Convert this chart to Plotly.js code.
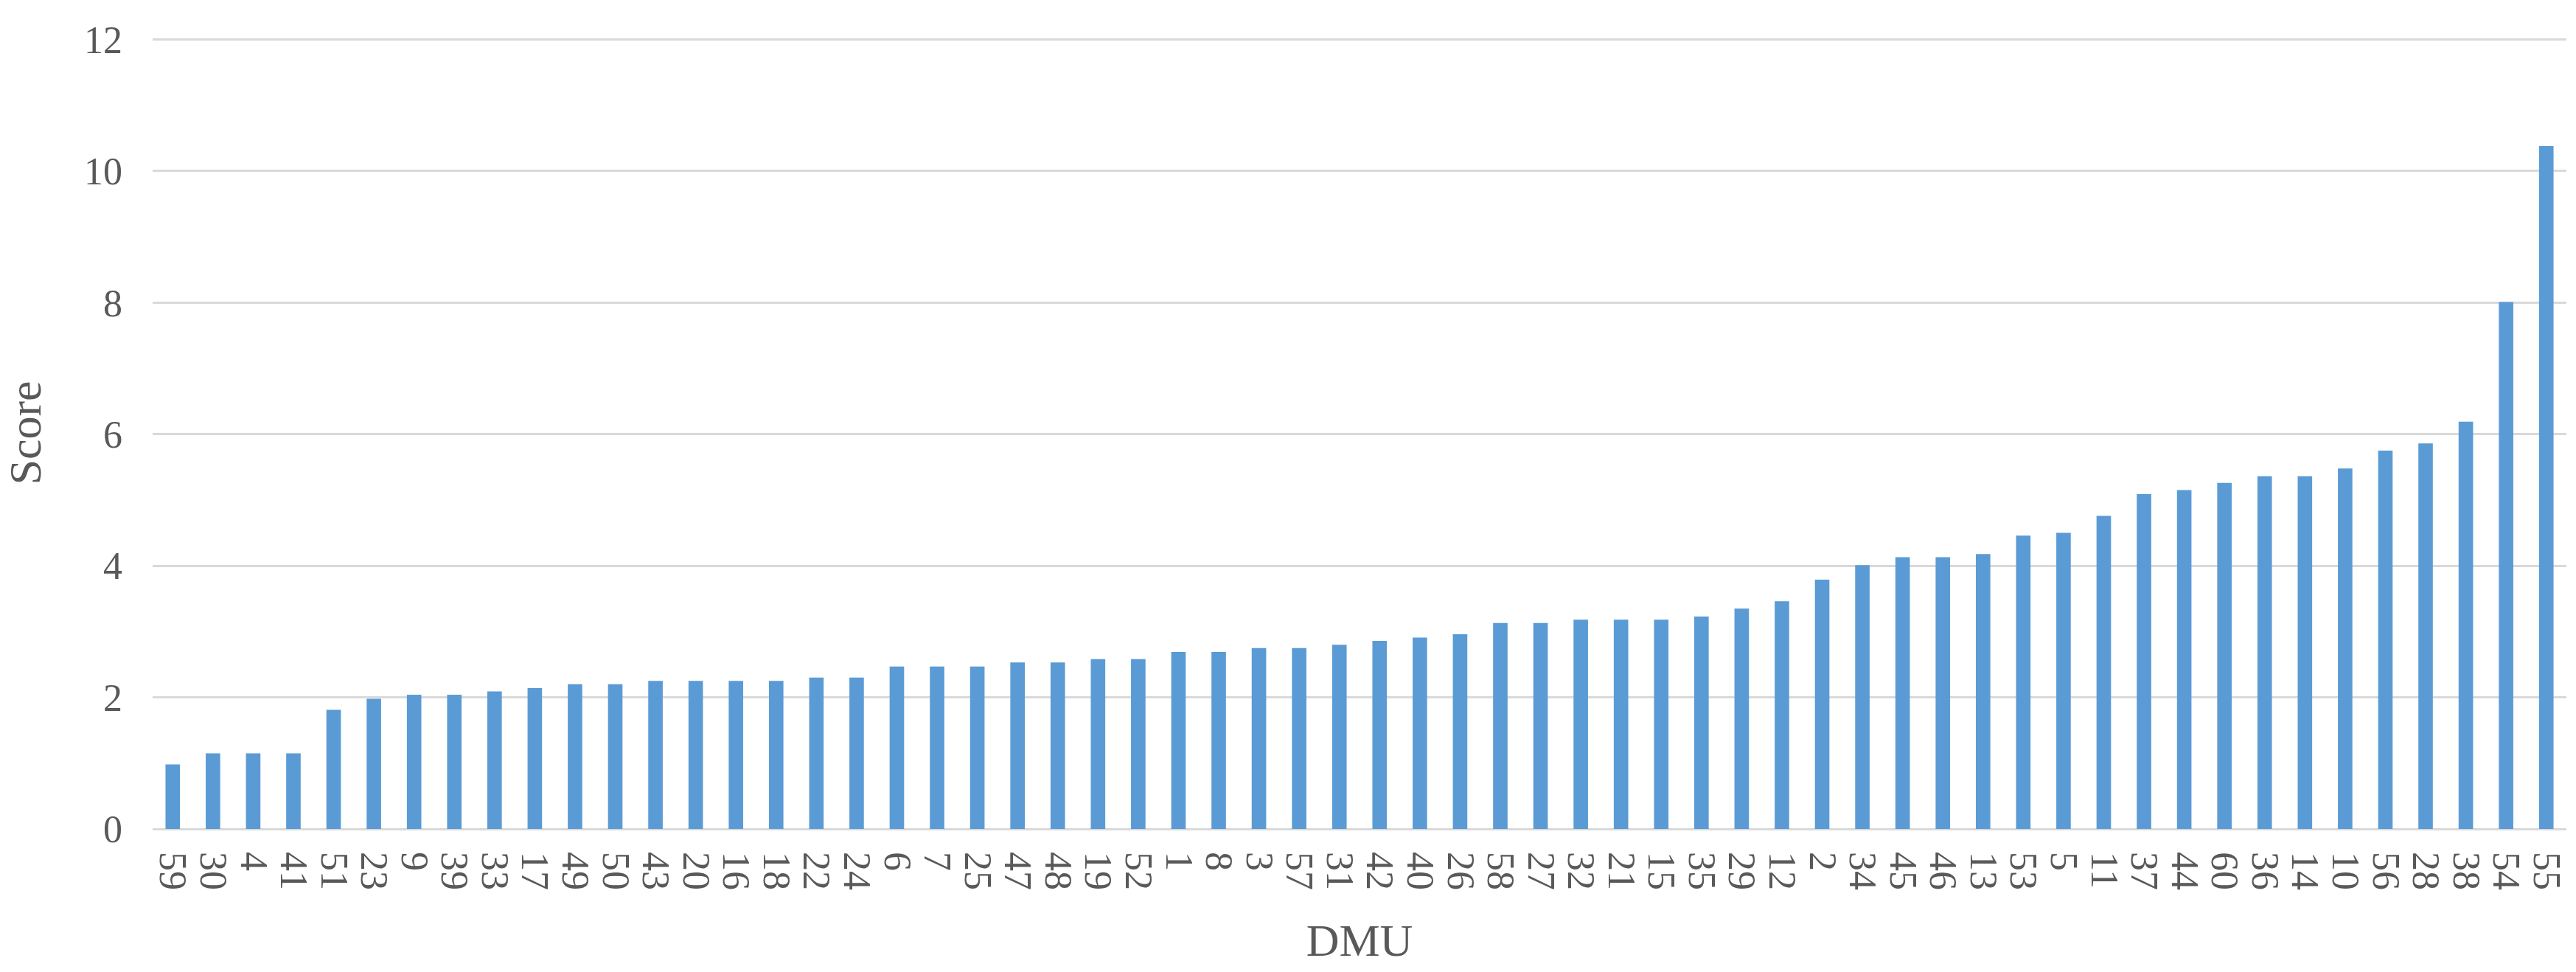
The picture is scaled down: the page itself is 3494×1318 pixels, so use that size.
<!DOCTYPE html>
<html>
<head>
<meta charset="utf-8">
<script src="https://cdn.plot.ly/plotly-3.0.1.min.js"></script>
<style>
  html, body { margin: 0; padding: 0; background: #fff; }
  #chart { width: 3494px; height: 1318px; }
</style>
</head>
<body>
<div id="chart"></div>
<script>
// DMU ids, sorted by score (ascending)
const dmuLabels = [
  "59", "30", "4", "41", "51", "23", "9", "39", "33", "17",
  "49", "50", "43", "20", "16", "18", "22", "24", "6", "7",
  "25", "47", "48", "19", "52", "1", "8", "3", "57", "31",
  "42", "40", "26", "58", "27", "32", "21", "15", "35", "29",
  "12", "2", "34", "45", "46", "13", "53", "5", "11", "37",
  "44", "60", "36", "14", "10", "56", "28", "38", "54", "55"
];

const scores = [
  0.98, 1.15, 1.15, 1.15, 1.81, 1.98, 2.04, 2.04, 2.09, 2.14,
  2.2, 2.2, 2.25, 2.25, 2.25, 2.25, 2.3, 2.3, 2.47, 2.47,
  2.47, 2.53, 2.53, 2.58, 2.58, 2.69, 2.69, 2.75, 2.75, 2.8,
  2.86, 2.91, 2.96, 3.13, 3.13, 3.18, 3.18, 3.18, 3.23, 3.35,
  3.46, 3.79, 4.01, 4.13, 4.13, 4.18, 4.46, 4.5, 4.76, 5.09,
  5.15, 5.26, 5.36, 5.36, 5.48, 5.75, 5.86, 6.19, 8.01, 10.38
];

const yTicks = [0, 2, 4, 6, 8, 10, 12];

const textColor = "#595959";
const gridColor = "#d9d9d9";
const barColor = "#5b9bd5";

const trace = {
  type: "bar",
  x: dmuLabels,
  y: scores,
  marker: { color: barColor },
  hoverinfo: "x+y",
};

const layout = {
  width: 3494,
  height: 1318,
  margin: { l: 207, r: 13, t: 50, b: 194 },
  paper_bgcolor: "#ffffff",
  plot_bgcolor: "#ffffff",
  bargap: 0.64,
  showlegend: false,
  font: { family: "Liberation Serif, Times New Roman, serif", size: 52, color: textColor },
  xaxis: {
    type: "category",
    tickmode: "array",
    tickvals: dmuLabels,
    ticktext: dmuLabels,
    tickangle: 90,
    ticks: "",
    showgrid: false,
    showline: false,
    zeroline: false,
    tickfont: { size: 52, color: textColor },
    ticklabelstandoff: 30,
    automargin: false,
    title: { text: "DMU", font: { size: 62, color: textColor }, standoff: 46 },
  },
  yaxis: {
    range: [0, 12.04],
    tickvals: yTicks,
    ticks: "",
    showgrid: true,
    gridcolor: gridColor,
    gridwidth: 3,
    zeroline: true,
    zerolinecolor: gridColor,
    zerolinewidth: 3,
    showline: false,
    tickfont: { size: 52, color: textColor },
    ticklabelstandoff: 40,
    automargin: false,
    title: { text: "Score", font: { size: 62, color: textColor }, standoff: 40 },
  },
};

Plotly.newPlot("chart", [trace], layout, { displayModeBar: false, staticPlot: true });
</script>
</body>
</html>
